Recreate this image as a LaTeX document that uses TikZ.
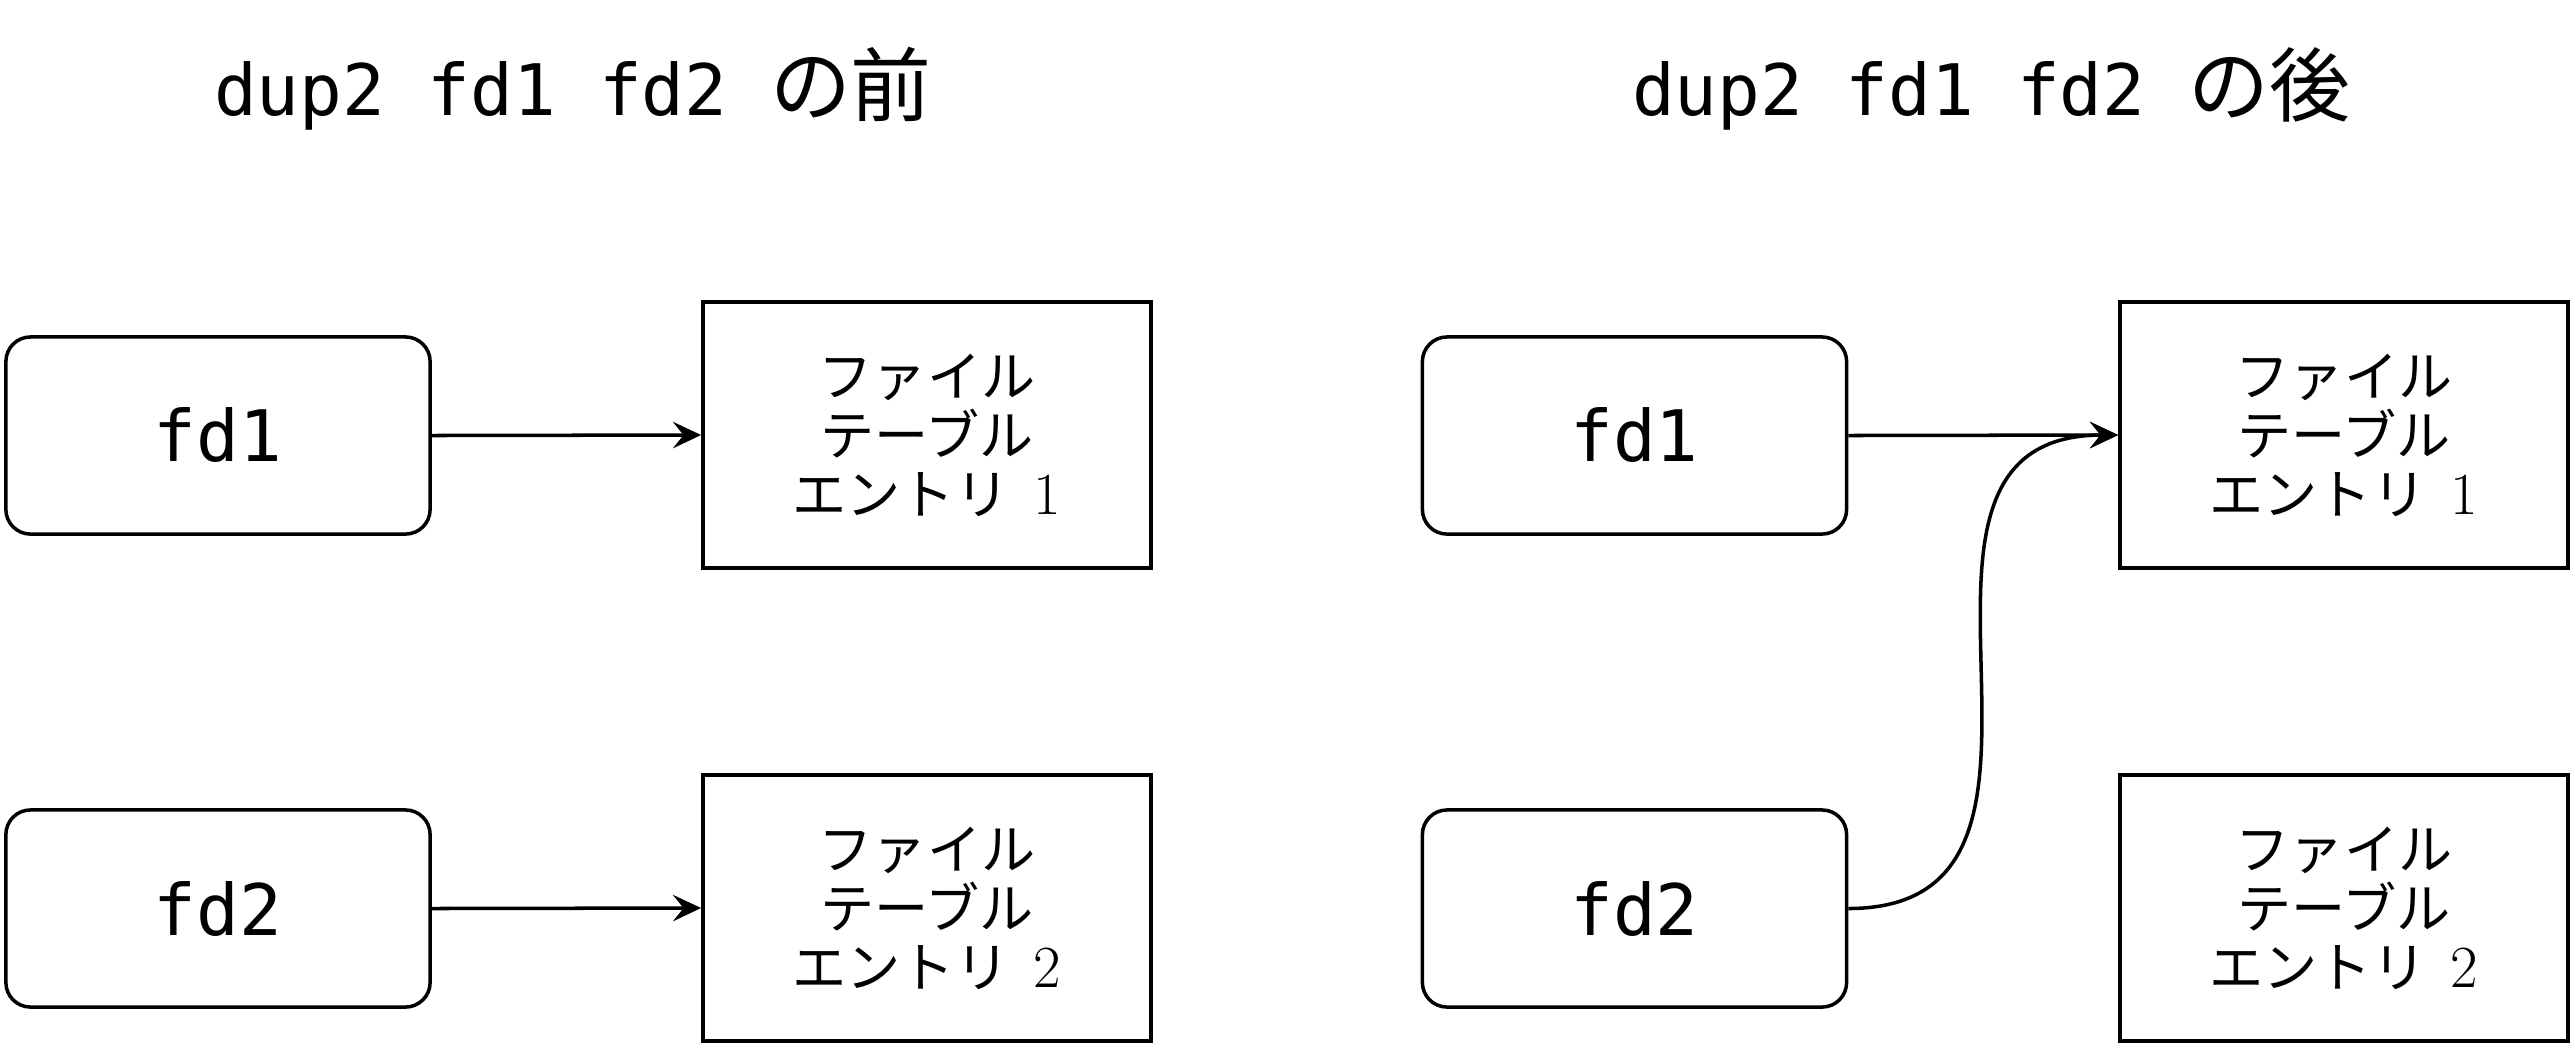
\documentclass[tikz,border=0pt]{standalone}
\usepackage{fontspec}
\setmonofont{DejaVu Sans Mono}
\newfontfamily\jpfont{Noto Sans CJK JP}
\usetikzlibrary{arrows.meta}
\newcommand{\entnum}[1]{\hspace{7pt}{\rmfamily\fontsize{17}{16.8}\selectfont #1}}
\begin{document}
\begin{tikzpicture}[x=0.01cm,y=-0.01cm,line width=1pt,
  fdbox/.style={draw,rounded corners=7pt,minimum width=4.24cm,minimum height=1.97cm,inner sep=0pt,
    font=\fontsize{20.2}{24}\selectfont\ttfamily},
  entbox/.style={draw,minimum width=4.48cm,minimum height=2.66cm,inner sep=0pt,align=center,
    font=\fontsize{15.4}{16.8}\selectfont\jpfont},
  titletext/.style={anchor=base,font=\fontsize{20.2}{24}\selectfont\ttfamily},
  arr/.style={-{Stealth[length=8pt,width=7.5pt,inset=3pt]}}]
\useasboundingbox (0,0) rectangle (2575,1047);

% left: before
\node[titletext] (t1) at (573,115) {dup2 fd1 fd2 {\jpfont\fontsize{23}{24}\selectfont の前}};
\node[fdbox] (a1) at (218,435.5) {fd1};
\node[fdbox] (a2) at (218,908.5) {fd2};
\node[entbox] (e1) at (927,435) {ファイル\\テーブル\\エントリ\entnum{1}};
\node[entbox] (e2) at (927,908) {ファイル\\テーブル\\エントリ\entnum{2}};
\draw[arr] (a1.east) -- (e1.west);
\draw[arr] (a2.east) -- (e2.west);

% right: after
\node[titletext] (t2) at (1991,115) {dup2 fd1 fd2 {\jpfont\fontsize{23}{24}\selectfont の後}};
\node[fdbox] (b1) at (1634.5,435.5) {fd1};
\node[fdbox] (b2) at (1634.5,908.5) {fd2};
\node[entbox] (f1) at (2344,435) {ファイル\\テーブル\\エントリ\entnum{1}};
\node[entbox] (f2) at (2344,908) {ファイル\\テーブル\\エントリ\entnum{2}};
\draw[arr] (b1.east) -- (f1.west);
\draw[arr] (b2.east) .. controls +(273,0) and +(-273,0) .. (f1.west);
\end{tikzpicture}
\end{document}
